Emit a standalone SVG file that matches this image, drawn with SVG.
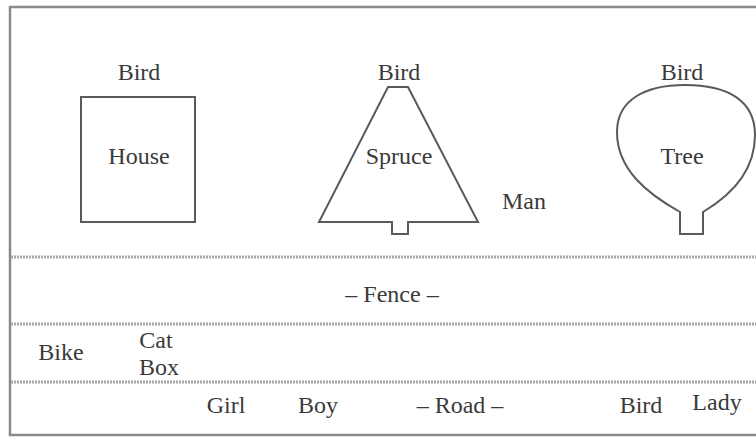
<svg xmlns="http://www.w3.org/2000/svg" width="756" height="437" viewBox="0 0 756 437">
<style>
text{font-family:'Liberation Serif','Times New Roman',Times,serif;font-size:24px;fill:#3a3a3a;text-anchor:middle}
.s{fill:none;stroke:#5a5a5a;stroke-width:2}
.b{fill:none;stroke:#8a8a8a;stroke-width:2.5}
.d{fill:none;stroke:#a8a8a8;stroke-width:3;stroke-dasharray:2 1}
</style>
<rect width="756" height="437" fill="#fff"/>
<g id="frame">
<path class="b" d="M760,7 H10 V435 H760"/>
</g>
<g id="connectors">
<line class="d" x1="11" y1="257" x2="756" y2="257"/>
<line class="d" x1="11" y1="324" x2="756" y2="324"/>
<line class="d" x1="11" y1="382" x2="756" y2="382"/>
</g>
<g id="house">
<rect class="s" x="81" y="97" width="114" height="125"/>
<text x="139" y="164">House</text>
</g>
<g id="bird1"><text x="139" y="80">Bird</text></g>
<g id="spruce">
<path class="s" d="M388,87 H408 L478,222 H408 V234 H392 V222 H319 Z"/>
<text x="399" y="164">Spruce</text>
</g>
<g id="bird2"><text x="399" y="80">Bird</text></g>
<g id="man"><text x="524" y="209">Man</text></g>
<g id="tree">
<path class="s" d="M680,212 C648,194 617,170 617,132 C617,100 645,85 685,85 C727,85 755,100 755,135 C755,172 730,196 703,212 V234 H680 Z"/>
<text x="682" y="164">Tree</text>
</g>
<g id="bird3"><text x="682" y="80">Bird</text></g>
<g id="fence"><text x="392" y="302">– Fence –</text></g>
<g id="bike"><text x="61" y="360">Bike</text></g>
<g id="cat"><text x="156" y="348">Cat</text></g>
<g id="box"><text x="159" y="375">Box</text></g>
<g id="girl"><text x="226" y="413">Girl</text></g>
<g id="boy"><text x="318" y="413">Boy</text></g>
<g id="road"><text x="460" y="413">– Road –</text></g>
<g id="bird4"><text x="641" y="413">Bird</text></g>
<g id="lady"><text x="717" y="410">Lady</text></g>
</svg>
